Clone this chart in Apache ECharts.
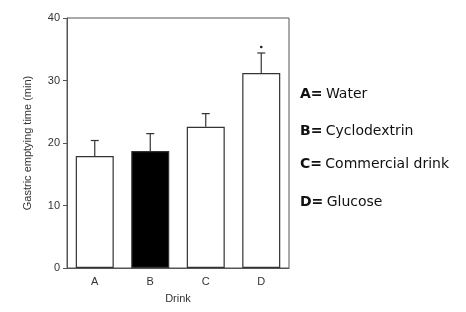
<!DOCTYPE html>
<html>
<head>
<meta charset="utf-8">
<script src="https://cdn.jsdelivr.net/npm/echarts@6/dist/echarts.min.js"></script>
<style>
  html, body { margin: 0; padding: 0; background: #fff; }
  #main { width: 466px; height: 312px; }
</style>
</head>
<body>
<div id="main"></div>
<script>
  // data
  var drinks = ['A', 'B', 'C', 'D']
  var emptyTime = [17.9, 18.7, 22.6, 31.2]
  var errTop = [20.4, 21.5, 24.7, 34.4]
  var signif = ['', '', '', '*']
  var legendKeys = ['A=', 'B=', 'C=', 'D=']
  var legendNames = ['Water', 'Cyclodextrin', 'Commercial drink', 'Glucose']
  var yTicks = [0, 10, 20, 30, 40]

  var barColors = ['#fff', '#000', '#fff', '#fff']
  var axisCol = '#555'
  var txtCol = '#333'

  var errData = []
  for (let i = 0; i < drinks.length; i++) {
    errData.push([i, emptyTime[i], errTop[i], signif[i]])
  }

  var legendGraphics = []
  var legendY = [94, 131, 164, 202]
  for (let i = 0; i < legendKeys.length; i++) {
    legendGraphics.push({
      type: 'text',
      left: 300,
      top: legendY[i] - 7,
      style: {
        text: '{k|' + legendKeys[i] + '} {n|' + legendNames[i] + '}',
        rich: {
          k: { fontFamily: 'DejaVu Sans', fontWeight: 'bold', fontSize: 14, fill: '#111' },
          n: { fontFamily: 'DejaVu Sans', fontSize: 14, fill: '#111' }
        }
      }
    })
  }

  var chart = echarts.init(document.getElementById('main'))
  chart.setOption({
    animation: false,
    grid: { left: 67, right: 177, top: 18, bottom: 44, show: true, borderColor: axisCol, borderWidth: 1 },
    xAxis: {
      type: 'category',
      data: drinks,
      name: 'Drink',
      nameLocation: 'middle',
      nameGap: 25,
      nameTextStyle: { fontFamily: 'Liberation Sans', fontSize: 11, color: txtCol },
      axisLine: { lineStyle: { color: axisCol } },
      axisTick: { alignWithLabel: true, length: 3, lineStyle: { color: axisCol } },
      axisLabel: { fontFamily: 'Liberation Sans', fontSize: 11, color: txtCol, margin: 8 }
    },
    yAxis: {
      type: 'value',
      min: yTicks[0],
      max: yTicks[yTicks.length - 1],
      interval: 10,
      name: 'Gastric emptying time (min)',
      nameLocation: 'middle',
      nameGap: 34,
      nameTextStyle: { fontFamily: 'Liberation Sans', fontSize: 11, color: txtCol },
      splitLine: { show: false },
      axisLine: { show: true, lineStyle: { color: axisCol } },
      axisTick: { show: true, length: 4, lineStyle: { color: axisCol } },
      axisLabel: { fontFamily: 'Liberation Sans', fontSize: 11, color: txtCol, margin: 7 }
    },
    graphic: legendGraphics,
    series: [
      {
        type: 'bar',
        barWidth: 38,
        data: emptyTime.map(function (v, i) {
          return { value: v, itemStyle: { color: barColors[i], borderColor: '#333', borderWidth: 1.2 } }
        }),
        z: 2
      },
      {
        type: 'custom',
        data: errData,
        z: 3,
        renderItem: function (params, api) {
          var base = api.coord([api.value(0), api.value(1)])
          var top = api.coord([api.value(0), api.value(2)])
          var kids = [
            { type: 'line', shape: { x1: base[0], y1: base[1], x2: top[0], y2: top[1] }, style: { stroke: '#333', lineWidth: 1.2 } },
            { type: 'line', shape: { x1: top[0] - 4, y1: top[1], x2: top[0] + 4, y2: top[1] }, style: { stroke: '#333', lineWidth: 1.2 } }
          ]
          if (signif[params.dataIndex]) {
            kids.push({ type: 'circle', shape: { cx: top[0], cy: top[1] - 6, r: 1.3 }, style: { fill: '#222' } })
          }
          return { type: 'group', children: kids }
        }
      }
    ]
  })
</script>
</body>
</html>
